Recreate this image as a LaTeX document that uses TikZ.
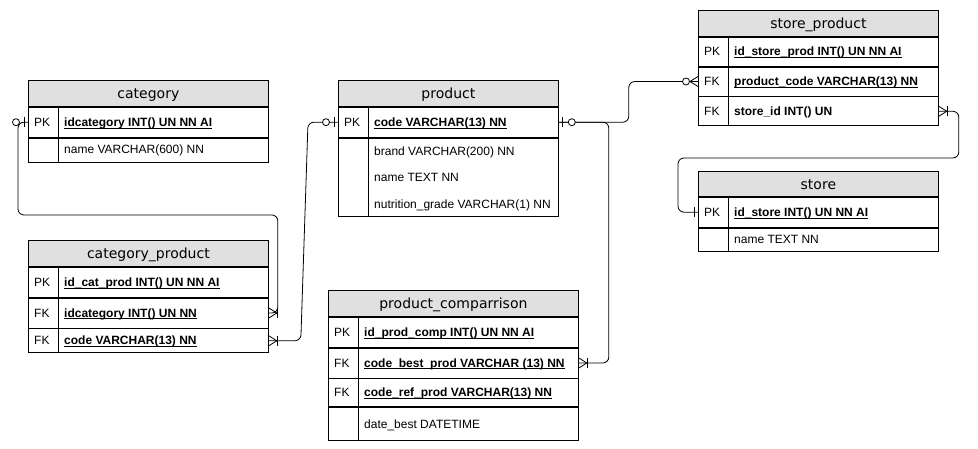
\documentclass[tikz,border=0pt]{standalone}
\usepackage{fontspec}
\usetikzlibrary{calc}
\newfontfamily\dvsans{DejaVu Sans}
\newfontfamily\lsans{Liberation Sans}
\definecolor{hdrgray}{HTML}{E0E0E0}
\newcommand\hdrfont{\dvsans\fontsize{14pt}{16pt}\selectfont}
\newcommand\rowfont{\lsans\fontsize{12pt}{14pt}\selectfont}
\newcommand\keyfld[1]{\setbox0=\hbox{\bfseries #1}\rlap{\vrule width\wd0 height -1.4pt depth 2.4pt}\box0}
\tikzset{
  lnw/.style={line width=0.8pt, draw=black},
  hdr/.style={lnw, fill=hdrgray, anchor=north west, inner sep=0pt, minimum height=26pt,
    text height=13pt, text depth=2pt, font=\hdrfont},
  tabrow/.style={lnw, anchor=north west, inner sep=0pt},
  rowtxt/.style={anchor=base west, inner sep=0pt, font=\rowfont},
  conn/.style={lnw, rounded corners=6pt},
  mk/.style={lnw}
}
% crow's foot: #1 point on table edge, #2 direction (+1 right, -1 left)
\newcommand\erCrow[2]{%
  \draw[mk] ($(#1)+(#2*8,0)$) -- ($(#1)+(0,-5)$);
  \draw[mk] ($(#1)+(#2*8,0)$) -- ($(#1)+(0,5)$);}
\newcommand\erBar[3]{% #3 distance
  \draw[mk] ($(#1)+(#2*#3,-5)$) -- ($(#1)+(#2*#3,5)$);}
\newcommand\erRing[3]{%
  \draw[mk, fill=white] ($(#1)+(#2*#3,0)$) circle[radius=3.5pt];}
\begin{document}
\begin{tikzpicture}[x=1pt,y=-1pt]
\fill[white] (0,0) rectangle (978,449);
\useasboundingbox (0,0) rectangle (978,449);

% ---------- category ----------
\node[hdr, minimum width=240pt] (cat) at (28,80) {category};
\node[tabrow, minimum width=240pt, minimum height=30pt] (catpk) at (cat.south west) {};
\node[tabrow, minimum width=240pt, minimum height=24pt] (catname) at (catpk.south west) {};
\draw[lnw] ($(cat.south west)+(30,0)$) -- ($(catname.south west)+(30,0)$);
\node[rowtxt] (catpkk) at ($(catpk.west)+(6,4)$) {PK};
\node[rowtxt] (catpkf) at ($(catpk.west)+(36,4)$) {\keyfld{idcategory INT() UN NN AI}};
\node[rowtxt] (catnamef) at ($(catname.west)+(36,4)$) {name VARCHAR(600) NN};

% ---------- category_product ----------
\node[hdr, minimum width=240pt] (cp) at (28,240) {category\_product};
\node[tabrow, minimum width=240pt, minimum height=30pt] (cppk) at (cp.south west) {};
\node[tabrow, minimum width=240pt, minimum height=30pt] (cpfk1) at (cppk.south west) {};
\node[tabrow, minimum width=240pt, minimum height=24pt] (cpfk2) at (cpfk1.south west) {};
\draw[lnw] ($(cp.south west)+(30,0)$) -- ($(cpfk2.south west)+(30,0)$);
\node[rowtxt] (cppkk) at ($(cppk.west)+(6,4)$) {PK};
\node[rowtxt] (cppkf) at ($(cppk.west)+(36,4)$) {\keyfld{id\_cat\_prod INT() UN NN AI}};
\node[rowtxt] (cpfk1k) at ($(cpfk1.west)+(6,4)$) {FK};
\node[rowtxt] (cpfk1f) at ($(cpfk1.west)+(36,4)$) {\keyfld{idcategory INT() UN NN}};
\node[rowtxt] (cpfk2k) at ($(cpfk2.west)+(6,4)$) {FK};
\node[rowtxt] (cpfk2f) at ($(cpfk2.west)+(36,4)$) {\keyfld{code VARCHAR(13) NN}};

% ---------- product ----------
\node[hdr, minimum width=220pt] (prod) at (338,80) {product};
\node[tabrow, minimum width=220pt, minimum height=30pt] (prodpk) at (prod.south west) {};
\node[tabrow, minimum width=220pt, minimum height=78pt] (prodbody) at (prodpk.south west) {};
\draw[lnw] ($(prod.south west)+(30,0)$) -- ($(prodbody.south west)+(30,0)$);
\node[rowtxt] (prodpkk) at ($(prodpk.west)+(6,4)$) {PK};
\node[rowtxt] (prodpkf) at ($(prodpk.west)+(36,4)$) {\keyfld{code VARCHAR(13) NN}};
\node[rowtxt] (prodbrand) at ($(prodbody.north west)+(36,18)$) {brand VARCHAR(200) NN};
\node[rowtxt] (prodname) at ($(prodbody.north west)+(36,44)$) {name TEXT NN};
\node[rowtxt] (prodnutri) at ($(prodbody.north west)+(36,71)$) {nutrition\_grade VARCHAR(1) NN};

% ---------- product_comparrison ----------
\node[hdr, minimum width=250pt] (pc) at (328,290) {product\_comparrison};
\node[tabrow, minimum width=250pt, minimum height=30pt] (pcpk) at (pc.south west) {};
\node[tabrow, minimum width=250pt, minimum height=30pt] (pcfk1) at (pcpk.south west) {};
\node[tabrow, minimum width=250pt, minimum height=28pt] (pcfk2) at (pcfk1.south west) {};
\node[tabrow, minimum width=250pt, minimum height=33pt] (pcdate) at (pcfk2.south west) {};
\draw[lnw] ($(pc.south west)+(30,0)$) -- ($(pcdate.south west)+(30,0)$);
\node[rowtxt] (pcpkk) at ($(pcpk.west)+(6,4)$) {PK};
\node[rowtxt] (pcpkf) at ($(pcpk.west)+(36,4)$) {\keyfld{id\_prod\_comp INT() UN NN AI}};
\node[rowtxt] (pcfk1k) at ($(pcfk1.west)+(6,4)$) {FK};
\node[rowtxt] (pcfk1f) at ($(pcfk1.west)+(36,4)$) {\keyfld{code\_best\_prod VARCHAR (13) NN}};
\node[rowtxt] (pcfk2k) at ($(pcfk2.west)+(6,4)$) {FK};
\node[rowtxt] (pcfk2f) at ($(pcfk2.west)+(36,4)$) {\keyfld{code\_ref\_prod VARCHAR(13) NN}};
\node[rowtxt] (pcdatef) at ($(pcdate.west)+(36,4)$) {date\_best DATETIME};

% ---------- store_product ----------
\node[hdr, minimum width=240pt] (sp) at (698,10) {store\_product};
\node[tabrow, minimum width=240pt, minimum height=29pt] (sppk) at (sp.south west) {};
\node[tabrow, minimum width=240pt, minimum height=29pt] (spfk1) at (sppk.south west) {};
\node[tabrow, minimum width=240pt, minimum height=29pt] (spfk2) at (spfk1.south west) {};
\draw[lnw] ($(sp.south west)+(30,0)$) -- ($(spfk2.south west)+(30,0)$);
\node[rowtxt] (sppkk) at ($(sppk.west)+(6,4)$) {PK};
\node[rowtxt] (sppkf) at ($(sppk.west)+(36,4)$) {\keyfld{id\_store\_prod INT() UN NN AI}};
\node[rowtxt] (spfk1k) at ($(spfk1.west)+(6,4)$) {FK};
\node[rowtxt] (spfk1f) at ($(spfk1.west)+(36,4)$) {\keyfld{product\_code VARCHAR(13) NN}};
\node[rowtxt] (spfk2k) at ($(spfk2.west)+(6,4)$) {FK};
\node[rowtxt] (spfk2f) at ($(spfk2.west)+(36,4)$) {\bfseries store\_id INT() UN};

% ---------- store ----------
\node[hdr, minimum width=240pt, minimum height=25pt] (st) at (698,171) {store};
\node[tabrow, minimum width=240pt, minimum height=30pt] (stpk) at (st.south west) {};
\node[tabrow, minimum width=240pt, minimum height=23pt] (stname) at (stpk.south west) {};
\draw[lnw] ($(st.south west)+(30,0)$) -- ($(stname.south west)+(30,0)$);
\node[rowtxt] (stpkk) at ($(stpk.west)+(6,4)$) {PK};
\node[rowtxt] (stpkf) at ($(stpk.west)+(36,4)$) {\keyfld{id\_store INT() UN NN AI}};
\node[rowtxt] (stnamef) at ($(stname.west)+(36,4)$) {name TEXT NN};

% ---------- connectors ----------
% category -> category_product
\draw[conn] (catpk.west) -- ++(-10,0) |- ($(cp.north east)+(9,-25)$) |- (cpfk1.east);
% product -> category_product
\draw[conn] (prodpk.west) -- ($(prodpk.west)+(-30,0)$) -- ($(cpfk2.east)+(32,0)$) -- (cpfk2.east);
% product -> store_product
\draw[conn] (prodpk.east) -- ++(70,0) |- (spfk1.west);
% product -> product_comparrison
\draw[conn] (prodpk.east) -- ++(50,0) |- (pcfk1.east);
% store_product -> store
\draw[conn] (spfk2.east) -- ++(20,0) |- ($(st.north west)+(-20,-13)$) |- (stpk.west);

% ---------- markers ----------
\erBar{catpk.west}{-1}{4}
\erRing{catpk.west}{-1}{12}
\erCrow{cpfk1.east}{1}
\erBar{cpfk1.east}{1}{9}
\erBar{prodpk.west}{-1}{4}
\erRing{prodpk.west}{-1}{12}
\erCrow{cpfk2.east}{1}
\erBar{cpfk2.east}{1}{9}
\erBar{prodpk.east}{1}{4}
\erRing{prodpk.east}{1}{13}
\erCrow{spfk1.west}{-1}
\erRing{spfk1.west}{-1}{12}
\erCrow{pcfk1.east}{1}
\erBar{pcfk1.east}{1}{9}
\erCrow{spfk2.east}{1}
\erBar{spfk2.east}{1}{9}
\erBar{stpk.west}{-1}{4}
\end{tikzpicture}
\end{document}
